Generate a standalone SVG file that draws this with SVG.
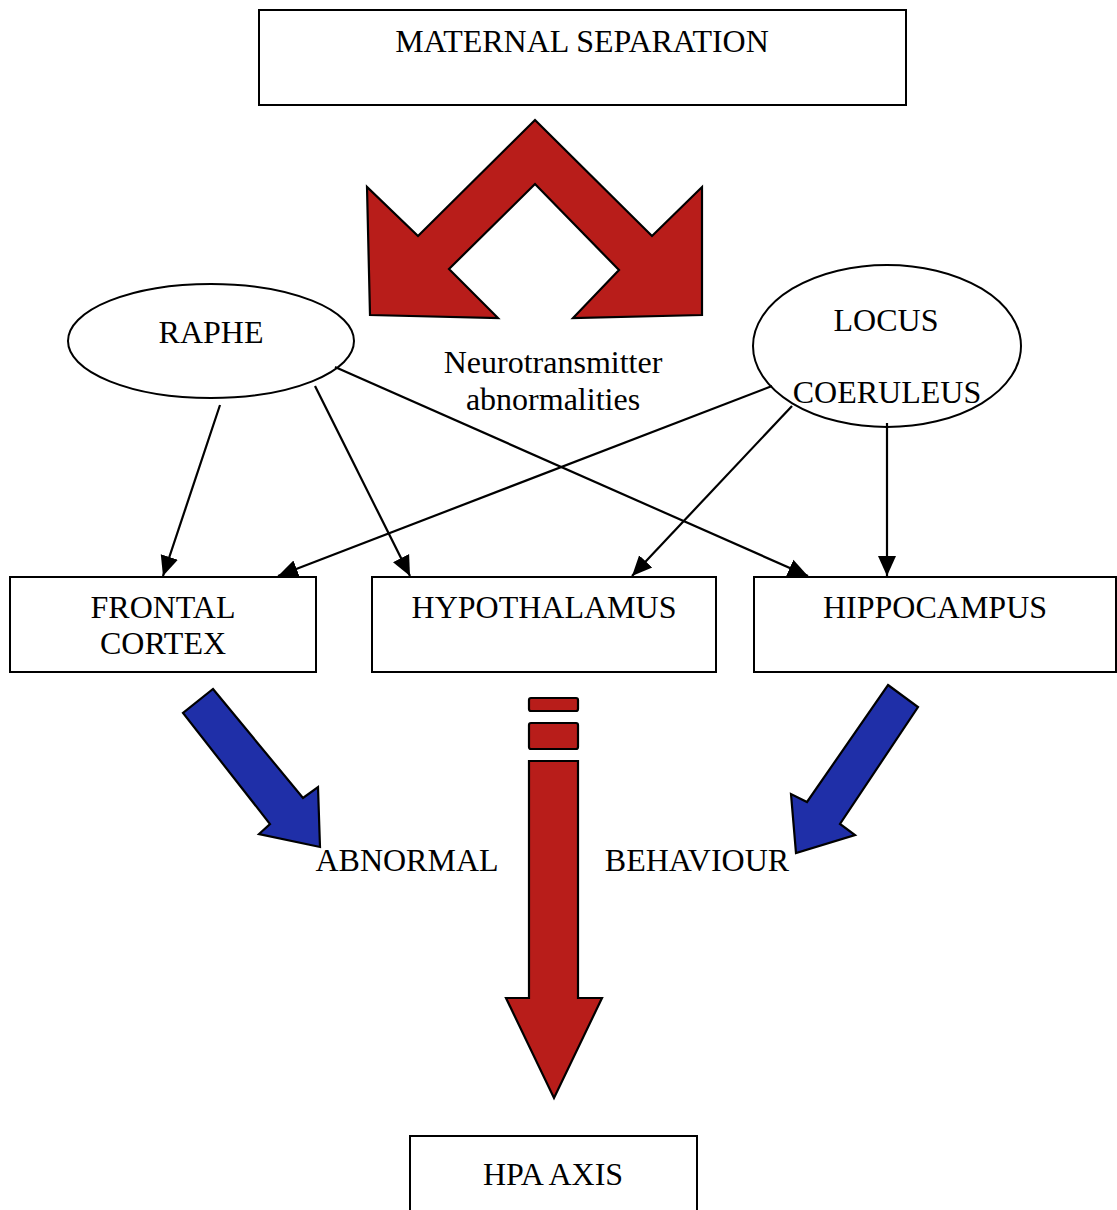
<svg xmlns="http://www.w3.org/2000/svg" width="1117" height="1210" viewBox="0 0 1117 1210">
<style>
.box{fill:#fff;stroke:#000;stroke-width:2}
.t{font-family:"Liberation Serif","Times New Roman",serif;font-size:32px;fill:#000;text-anchor:middle}
.red{fill:#b81d1a;stroke:#000;stroke-width:2.2;stroke-linejoin:miter}
.blue{fill:#1f2fa8;stroke:#000;stroke-width:2.2;stroke-linejoin:miter}
.conn line{stroke:#000;stroke-width:2.2;marker-end:url(#ah)}
</style>
<defs>
<marker id="ah" markerUnits="userSpaceOnUse" viewBox="0 0 20 20" markerWidth="20" markerHeight="20" refX="20" refY="10" orient="auto">
<path d="M0,1 L20,10 L0,19 Z" fill="#000"/>
</marker>
</defs>
<rect width="1117" height="1210" fill="#fff"/>

<g id="maternal-separation">
<rect class="box" x="259" y="10" width="647" height="95"/>
<text class="t" x="582" y="52">MATERNAL SEPARATION</text>
</g>

<g id="chevron-arrow">
<path class="red" d="M535,120 L652,236 L702,187 L702,315 L573,318 L619,270 L535,184 L449,269 L498,318 L370,315 L367,187 L418,236 Z"/>
</g>

<g id="neurotransmitter-label">
<text class="t" x="553" y="373">Neurotransmitter</text>
<text class="t" x="553" y="410">abnormalities</text>
</g>

<g id="raphe">
<ellipse class="box" cx="211" cy="341" rx="143" ry="57"/>
<text class="t" x="211" y="343">RAPHE</text>
</g>

<g id="locus-coeruleus">
<ellipse class="box" cx="887" cy="346" rx="134" ry="81"/>
<text class="t" x="886" y="331">LOCUS</text>
<text class="t" x="887" y="403">COERULEUS</text>
</g>

<g id="frontal-cortex">
<rect class="box" x="10" y="577" width="306" height="95"/>
<text class="t" x="163" y="618">FRONTAL</text>
<text class="t" x="163" y="654">CORTEX</text>
</g>

<g id="hypothalamus">
<rect class="box" x="372" y="577" width="344" height="95"/>
<text class="t" x="544" y="618">HYPOTHALAMUS</text>
</g>

<g id="hippocampus">
<rect class="box" x="754" y="577" width="362" height="95"/>
<text class="t" x="935" y="618">HIPPOCAMPUS</text>
</g>

<g id="hpa-axis">
<rect class="box" x="410" y="1136" width="287" height="90"/>
<text class="t" x="553" y="1185">HPA AXIS</text>
</g>

<g id="abnormal-behaviour">
<text class="t" x="407" y="871">ABNORMAL</text>
<text class="t" x="697" y="871">BEHAVIOUR</text>
</g>

<g id="connectors" class="conn">
<line x1="220" y1="405" x2="163" y2="576"/>
<line x1="315" y1="386" x2="410" y2="576"/>
<line x1="335" y1="367" x2="808" y2="576"/>
<line x1="772" y1="386" x2="278" y2="576"/>
<line x1="792" y1="406" x2="632" y2="576"/>
<line x1="887" y1="423" x2="887" y2="576"/>
</g>

<g id="blue-arrow-left">
<path class="blue" d="M213,689 L303,798 L318,787 L320,847 L259,834 L270,824 L183,713 Z"/>
</g>

<g id="blue-arrow-right">
<path class="blue" d="M888,685 L918,707 L840,824 L855,835 L796,853 L791,794 L807,802 Z"/>
</g>

<g id="red-down-arrow">
<rect class="red" x="529" y="698" width="49" height="13" rx="2"/>
<rect class="red" x="529" y="723" width="49" height="26" rx="2"/>
<path class="red" d="M529,761 L578,761 L578,998 L602,998 L554,1098 L506,998 L529,998 Z"/>
</g>
</svg>
